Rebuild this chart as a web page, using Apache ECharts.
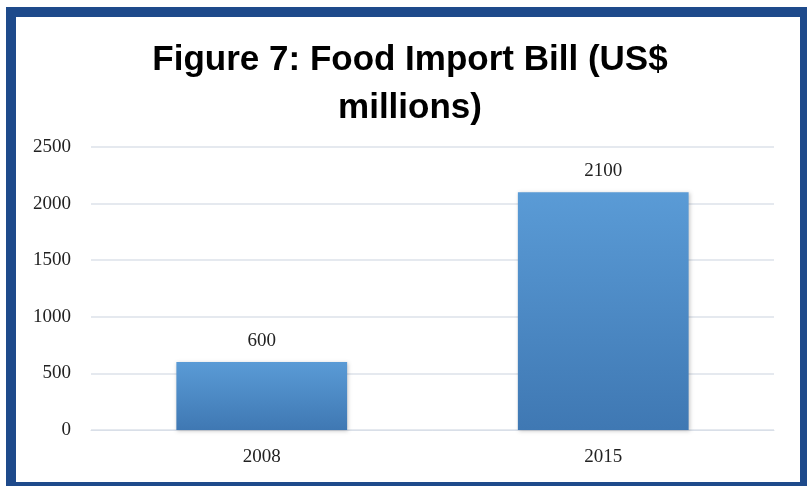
<!DOCTYPE html>
<html>
<head>
<meta charset="utf-8">
<script src="https://cdn.jsdelivr.net/npm/echarts@6/dist/echarts.min.js"></script>
<style>
html,body{margin:0;padding:0;background:#fff;}
#chart{width:807px;height:486px;}
</style>
</head>
<body>
<div id="chart"></div>
<script>
const titleText = 'Figure 7: Food Import Bill (US$\nmillions)';
const categories = ['2008', '2015'];
const values = [600, 2100];
const yTicks = { min: 0, max: 2500, interval: 500 };

const chart = echarts.init(document.getElementById('chart'), null, { renderer: 'canvas' });
const borderColor = '#1e4a8b';
const serif = '"Liberation Serif", "Times New Roman", serif';

chart.setOption({
  backgroundColor: '#ffffff',
  animation: false,
  title: {
    text: titleText,
    left: 405,
    top: 31,
    textAlign: 'center',
    textStyle: {
      fontFamily: '"Liberation Sans", Arial, Helvetica, sans-serif',
      fontWeight: 'bold',
      fontSize: 35,
      lineHeight: 48,
      color: '#000'
    }
  },
  grid: { left: 91, right: 33, top: 147, bottom: 56, containLabel: false },
  xAxis: {
    type: 'category',
    data: categories,
    axisLine: { show: true, lineStyle: { color: '#d9dfe8', width: 1 } },
    axisTick: { show: false },
    axisLabel: { margin: 18, fontFamily: serif, fontSize: 19, color: '#222' },
    splitLine: { show: false }
  },
  yAxis: {
    type: 'value',
    min: yTicks.min,
    max: yTicks.max,
    interval: yTicks.interval,
    axisLine: { show: false },
    axisTick: { show: false },
    axisLabel: {
      margin: 20, fontFamily: serif, fontSize: 19, color: '#222',
      formatter: function (v) { return String(v); }
    },
    splitLine: { lineStyle: { color: '#dde2ea', width: 1.5 } }
  },
  series: [{
    type: 'bar',
    data: values,
    barWidth: '50%',
    itemStyle: {
      color: new echarts.graphic.LinearGradient(0, 0, 0, 1, [
        { offset: 0, color: '#5a9bd6' },
        { offset: 1, color: '#3f78b3' }
      ]),
      shadowColor: 'rgba(0,0,0,0.22)',
      shadowBlur: 4,
      shadowOffsetX: 1,
      shadowOffsetY: 1
    },
    label: {
      show: true,
      position: 'top',
      distance: 12,
      fontFamily: serif,
      fontSize: 19,
      color: '#222'
    }
  }],
  graphic: [
    { type: 'rect', shape: { x: 6, y: 7, width: 801, height: 10 }, style: { fill: borderColor }, z: 100 },
    { type: 'rect', shape: { x: 6, y: 7, width: 10, height: 479 }, style: { fill: borderColor }, z: 100 },
    { type: 'rect', shape: { x: 800, y: 7, width: 7, height: 479 }, style: { fill: borderColor }, z: 100 },
    { type: 'rect', shape: { x: 6, y: 482, width: 801, height: 4 }, style: { fill: borderColor }, z: 100 }
  ]
});
</script>
</body>
</html>
